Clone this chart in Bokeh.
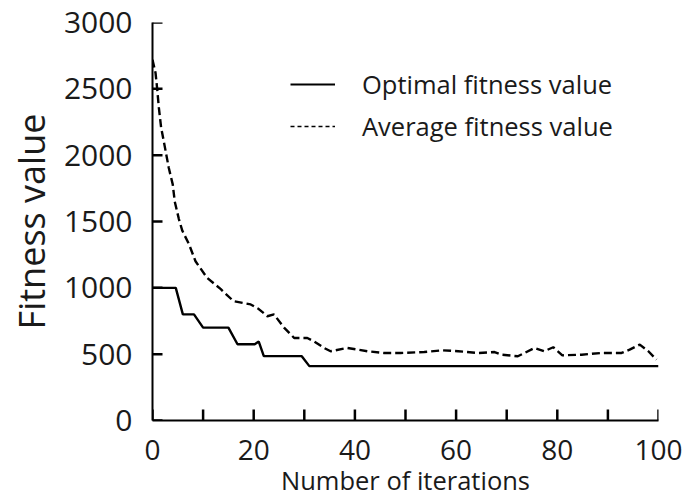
import math
from bokeh.plotting import figure
from bokeh.models import Range1d, FixedTicker, Legend, LegendItem
from bokeh.embed import file_html
from bokeh.resources import INLINE

# ---- data ----
opt_iter = [0, 4.6, 6, 8.2, 10, 15, 16.8, 20.2, 21, 22, 27.6, 29.5, 31, 100]
opt_value = [1000, 1000, 800, 800, 700, 700, 575, 575, 595, 485, 485, 485, 410, 410]

avg_iter = [0, 0.6, 0.9, 1.25, 1.7, 2.4, 3.2, 4, 4.4, 5.2, 5.9, 7.2, 8.5, 10.8,
            13.5, 16, 19.4, 21, 22.7, 24, 26, 28, 30.6, 31.9, 33.9, 35.2, 38.5,
            42.5, 45.7, 49, 53.7, 57.4, 60.4, 64.4, 67.6, 69, 72.2, 75.5, 77.4,
            79.2, 81, 84.8, 88.7, 92.7, 94.3, 96.3, 98, 99.6]
avg_value = [2720, 2620, 2510, 2360, 2210, 2070, 1907, 1780, 1650, 1520, 1430,
             1330, 1200, 1075, 990, 900, 875, 840, 786, 800, 700, 622, 622, 597,
             547, 522, 547, 522, 509, 509, 516, 529, 522, 509, 516, 496, 484,
             547, 522, 552, 491, 496, 509, 509, 534, 572, 522, 459]

x_ticks = [0, 10, 20, 30, 40, 50, 60, 70, 80, 90, 100]
x_labelled = [0, 20, 40, 60, 80, 100]
y_ticks = [0, 500, 1000, 1500, 2000, 2500, 3000]

series_names = ["Optimal fitness value", "Average fitness value"]
x_title = "Number of iterations"
y_title = "Fitness value"

FONT = "Open Sans"
INK = "#1a1a1a"

p = figure(width=687, height=499, output_backend="svg", toolbar_location=None,
           x_range=Range1d(0, 100), y_range=Range1d(0, 3000),
           min_border_left=152, min_border_top=22, min_border_right=29,
           min_border_bottom=79)
p.outline_line_color = None
p.xgrid.visible = False
p.ygrid.visible = False
p.background_fill_color = "white"
p.border_fill_color = "white"

r_opt = p.line(opt_iter, opt_value, line_color="black", line_width=2.4)
r_avg = p.line(avg_iter, avg_value, line_color="black", line_width=2.4,
               line_dash="8 4")

# inward tick marks (half of each dash is clipped away by the frame)
p.scatter(x_ticks, [y_ticks[0]] * len(x_ticks), marker="dash", angle=math.pi / 2,
          size=22, line_color="black", line_width=2.5)
p.scatter([x_ticks[0]] * len(y_ticks), y_ticks, marker="dash",
          size=20, line_color="black", line_width=2.5)

# legend-only renderers (thin glyphs as in the reference legend), nothing drawn in plot
nan = float("nan")
leg_opt = p.line([nan, nan], [nan, nan], line_color="black", line_width=2)
leg_avg = p.line([nan, nan], [nan, nan], line_color="black", line_width=1.4,
                 line_dash="4 3")

# axes
for ax in (p.xaxis[0], p.yaxis[0]):
    ax.axis_line_color = "black"
    ax.axis_line_width = 2
    ax.major_tick_line_color = None
    ax.major_tick_in = 0
    ax.major_tick_out = 0
    ax.minor_tick_line_color = None
    ax.major_label_text_font = FONT
    ax.major_label_text_color = INK
    ax.axis_label_text_font = FONT
    ax.axis_label_text_color = INK
    ax.axis_label_text_font_style = "normal"

p.xaxis.ticker = FixedTicker(ticks=x_ticks)
p.xaxis.major_label_overrides = {t: (str(t) if t in x_labelled else "") for t in x_ticks}
p.xaxis.major_label_text_font_size = "28px"
p.xaxis.major_label_standoff = 19
p.xaxis.axis_label = x_title
p.xaxis.axis_label_text_font_size = "25.5px"
p.xaxis.axis_label_standoff = 0

p.yaxis.ticker = FixedTicker(ticks=y_ticks)
p.yaxis.major_label_text_font_size = "30px"
p.yaxis.major_label_standoff = 20
p.yaxis.axis_label = y_title
p.yaxis.axis_label_text_font_size = "36px"
p.yaxis.axis_label_standoff = 5

legend = Legend(items=[LegendItem(label=series_names[0], renderers=[leg_opt]),
                       LegendItem(label=series_names[1], renderers=[leg_avg])],
                location=(138, 277), border_line_color=None,
                background_fill_alpha=0, padding=0, margin=0, spacing=8,
                label_height=34, glyph_height=34, glyph_width=45,
                label_standoff=27, label_text_font=FONT,
                label_text_font_size="25.5px", label_text_color=INK)
p.add_layout(legend, "center")

open("out.html", "w").write(file_html(p, INLINE))
